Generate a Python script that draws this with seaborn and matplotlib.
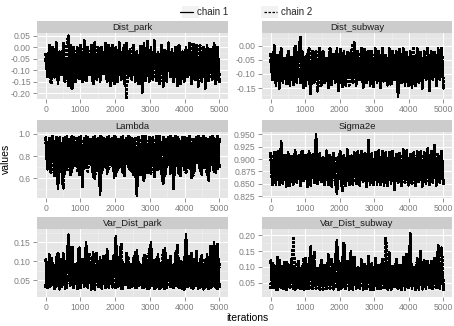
import numpy as np
import pandas as pd
import matplotlib
matplotlib.use("Agg")
import matplotlib.pyplot as plt
from matplotlib.lines import Line2D
from matplotlib.patches import Rectangle
from matplotlib.ticker import FormatStrFormatter, FixedLocator
import seaborn as sns

# ---------------- data ----------------
params = ["Dist_park", "Dist_subway", "Lambda", "Sigma2e", "Var_Dist_park", "Var_Dist_subway"]
chains = ["chain 1", "chain 2"]
x_ticks = [0, 1000, 2000, 3000, 4000, 5000]
n_iter = 5000

dist_park_c1 = [
    -0.03, -0.13, 0.01, -0.15, -0.04, -0.11, 0.00, -0.16, -0.02, -0.12,
    0.02, -0.14, -0.05, -0.17, 0.01, -0.12, -0.03, -0.15, 0.00, -0.10,
    -0.01, -0.15, 0.03, -0.13, -0.04, -0.12, 0.01, -0.16, -0.02, -0.14,
    0.00, -0.15, -0.05, -0.11, 0.02, -0.13, -0.02, -0.17, 0.01, -0.12,
    -0.03, -0.15, 0.00, -0.13, -0.04, -0.16, 0.02, -0.12, -0.01, -0.14,
    0.01, -0.15, -0.03, -0.13, 0.00, -0.20, 0.02, -0.12, -0.04, -0.15,
    0.00, -0.14, 0.03, -0.13, -0.02, -0.16, 0.01, -0.11, -0.03, -0.15,
    0.02, -0.13, -0.01, -0.14, 0.00, -0.17, 0.01, -0.12, -0.02, -0.15,
    0.00, -0.13, 0.02, -0.16, -0.01, -0.14, 0.01, -0.12, -0.03, -0.15,
    0.00, -0.18, 0.01, -0.13, -0.02, -0.14, 0.02, -0.12, 0.00, -0.15]
dist_park_c2 = [
    -0.05, -0.12, -0.01, -0.16, 0.00, -0.13, 0.02, -0.14, -0.02, -0.11,
    -0.04, -0.15, 0.01, 0.05, -0.13, -0.18, 0.00, -0.12, -0.02, -0.14,
    0.01, -0.13, -0.04, -0.15, 0.00, -0.12, -0.02, -0.16, 0.02, -0.13,
    -0.03, -0.14, 0.00, -0.12, -0.01, -0.15, 0.01, -0.13, -0.04, -0.16,
    0.00, -0.12, 0.02, -0.14, -0.02, 0.01, -0.22, -0.03, -0.13, -0.01,
    0.00, -0.13, -0.02, -0.16, 0.01, -0.12, -0.01, -0.15, 0.03, -0.14,
    -0.02, -0.12, 0.00, -0.15, -0.03, -0.13, 0.01, -0.17, -0.01, -0.14,
    0.02, -0.12, -0.03, -0.15, 0.00, -0.13, 0.01, -0.16, -0.02, -0.14,
    -0.01, -0.12, 0.00, -0.15, 0.02, -0.13, -0.03, -0.17, 0.01, -0.14,
    -0.02, -0.12, 0.00, -0.15, -0.01, -0.13, 0.01, -0.16, -0.02, -0.13]

dist_subway_c1 = [
    -0.03, -0.12, 0.00, -0.14, -0.04, -0.11, -0.02, -0.13, -0.05, -0.12,
    -0.02, -0.14, -0.04, -0.11, -0.01, -0.13, -0.03, 0.03, -0.12, -0.05,
    -0.14, -0.03, -0.11, -0.17, -0.02, -0.13, -0.04, -0.12, -0.01, -0.14,
    -0.03, -0.11, -0.05, -0.15, -0.02, -0.12, -0.04, -0.13, -0.01, -0.16,
    -0.03, -0.12, -0.02, -0.14, -0.05, -0.11, -0.02, -0.13, 0.01, -0.14,
    -0.04, -0.12, -0.01, -0.15, -0.03, -0.11, -0.02, -0.14, -0.04, -0.12,
    -0.01, -0.13, -0.03, -0.15, -0.02, -0.12, -0.04, -0.14, -0.01, -0.13,
    -0.03, -0.12, -0.02, -0.18, -0.04, -0.11, -0.01, -0.14, -0.03, -0.12,
    -0.02, -0.15, -0.04, -0.11, -0.01, -0.13, -0.03, -0.14, -0.02, -0.12,
    -0.04, -0.16, -0.02, -0.12, -0.03, -0.14, -0.01, -0.11, -0.02, -0.15]
dist_subway_c2 = [
    -0.05, -0.11, -0.02, -0.13, -0.03, -0.15, -0.01, -0.12, -0.04, -0.14,
    -0.02, -0.12, -0.05, -0.14, 0.00, -0.11, -0.03, -0.13, -0.02, -0.15,
    -0.04, -0.12, -0.01, -0.14, -0.03, -0.11, -0.02, -0.16, -0.04, -0.12,
    -0.02, -0.13, -0.04, -0.12, -0.01, -0.14, -0.03, -0.11, -0.05, -0.13,
    -0.01, -0.15, -0.03, -0.12, -0.02, -0.14, -0.04, 0.00, -0.11, -0.13,
    -0.02, -0.12, -0.04, -0.14, -0.01, -0.13, -0.03, -0.11, -0.02, -0.15,
    -0.04, -0.12, -0.02, -0.14, -0.01, -0.13, -0.03, -0.12, -0.05, -0.14,
    -0.02, -0.11, -0.03, -0.15, -0.01, -0.13, -0.04, -0.12, -0.02, -0.14,
    -0.03, -0.12, -0.01, -0.14, -0.04, -0.13, -0.02, -0.15, -0.03, -0.11,
    -0.01, -0.13, -0.03, -0.12, -0.02, -0.14, -0.04, -0.12, -0.01, -0.14]

lambda_c1 = [
    0.97, 0.68, 0.96, 0.72, 0.98, 0.62, 0.95, 0.50, 0.97, 0.70,
    0.96, 0.64, 0.98, 0.74, 0.95, 0.66, 0.97, 0.71, 0.96, 0.63,
    0.98, 0.52, 0.96, 0.69, 0.97, 0.75, 0.95, 0.61, 0.98, 0.67,
    0.96, 0.45, 0.97, 0.70, 0.95, 0.64, 0.98, 0.72, 0.96, 0.60,
    0.97, 0.68, 0.95, 0.73, 0.98, 0.62, 0.96, 0.70, 0.97, 0.66,
    0.95, 0.71, 0.44, 0.97, 0.63, 0.96, 0.74, 0.98, 0.65, 0.95,
    0.69, 0.97, 0.61, 0.96, 0.72, 0.98, 0.66, 0.55, 0.95, 0.70,
    0.97, 0.64, 0.96, 0.50, 0.98, 0.73, 0.95, 0.62, 0.97, 0.68,
    0.96, 0.71, 0.98, 0.60, 0.95, 0.67, 0.97, 0.74, 0.96, 0.63,
    0.98, 0.69, 0.95, 0.58, 0.97, 0.72, 0.96, 0.65, 0.98, 0.70]
lambda_c2 = [
    0.96, 0.70, 0.97, 0.65, 0.95, 0.73, 0.98, 0.66, 0.96, 0.71,
    0.51, 0.97, 0.68, 0.95, 0.62, 0.98, 0.74, 0.96, 0.67, 0.97,
    0.63, 0.95, 0.70, 0.98, 0.66, 0.96, 0.72, 0.97, 0.60, 0.95,
    0.69, 0.98, 0.64, 0.96, 0.73, 0.97, 0.67, 0.95, 0.71, 0.98,
    0.62, 0.96, 0.70, 0.97, 0.65, 0.95, 0.74, 0.98, 0.68, 0.96,
    0.63, 0.97, 0.71, 0.95, 0.66, 0.98, 0.58, 0.96, 0.69, 0.97,
    0.64, 0.95, 0.72, 0.98, 0.67, 0.96, 0.70, 0.97, 0.62, 0.95,
    0.73, 0.98, 0.66, 0.96, 0.70, 0.97, 0.64, 0.95, 0.71, 0.98,
    0.65, 0.96, 0.69, 0.97, 0.62, 0.95, 0.73, 0.98, 0.67, 0.96,
    0.70, 0.97, 0.63, 0.95, 0.72, 0.98, 0.66, 0.96, 0.69, 0.97]

sigma2e_c1 = [
    0.912, 0.852, 0.905, 0.848, 0.915, 0.858, 0.935, 0.850, 0.908, 0.845,
    0.914, 0.855, 0.902, 0.849, 0.918, 0.853, 0.907, 0.846, 0.913, 0.857,
    0.904, 0.851, 0.916, 0.847, 0.909, 0.856, 0.950, 0.850, 0.911, 0.854,
    0.903, 0.848, 0.917, 0.852, 0.906, 0.845, 0.912, 0.858, 0.830, 0.905,
    0.915, 0.850, 0.908, 0.846, 0.919, 0.855, 0.904, 0.849, 0.913, 0.852,
    0.907, 0.847, 0.916, 0.854, 0.909, 0.851, 0.938, 0.848, 0.912, 0.856,
    0.905, 0.849, 0.918, 0.853, 0.908, 0.846, 0.914, 0.857, 0.903, 0.850,
    0.916, 0.838, 0.909, 0.852, 0.912, 0.848, 0.906, 0.855, 0.917, 0.847,
    0.904, 0.853, 0.913, 0.849, 0.908, 0.856, 0.915, 0.845, 0.910, 0.851,
    0.921, 0.848, 0.907, 0.854, 0.914, 0.847, 0.909, 0.852, 0.916, 0.850]
sigma2e_c2 = [
    0.908, 0.849, 0.914, 0.855, 0.903, 0.847, 0.917, 0.852, 0.906, 0.858,
    0.912, 0.846, 0.909, 0.851, 0.915, 0.857, 0.904, 0.848, 0.918, 0.853,
    0.907, 0.845, 0.913, 0.856, 0.902, 0.850, 0.916, 0.847, 0.910, 0.854,
    0.905, 0.852, 0.919, 0.846, 0.908, 0.855, 0.912, 0.849, 0.904, 0.857,
    0.914, 0.836, 0.906, 0.853, 0.917, 0.848, 0.909, 0.855, 0.903, 0.850,
    0.915, 0.847, 0.908, 0.854, 0.911, 0.845, 0.918, 0.852, 0.905, 0.849,
    0.913, 0.856, 0.904, 0.848, 0.916, 0.851, 0.909, 0.846, 0.914, 0.855,
    0.906, 0.849, 0.912, 0.853, 0.903, 0.847, 0.919, 0.852, 0.908, 0.856,
    0.911, 0.850, 0.905, 0.846, 0.915, 0.854, 0.907, 0.849, 0.913, 0.852,
    0.909, 0.847, 0.916, 0.853, 0.930, 0.850, 0.904, 0.855, 0.912, 0.848]

var_dist_park_c1 = [
    0.105, 0.030, 0.118, 0.035, 0.095, 0.028, 0.112, 0.040, 0.088, 0.032,
    0.120, 0.027, 0.098, 0.170, 0.036, 0.108, 0.030, 0.092, 0.038, 0.115,
    0.029, 0.102, 0.034, 0.150, 0.031, 0.097, 0.026, 0.125, 0.037, 0.090,
    0.033, 0.110, 0.028, 0.094, 0.039, 0.132, 0.030, 0.100, 0.035, 0.086,
    0.165, 0.032, 0.112, 0.027, 0.098, 0.038, 0.121, 0.031, 0.093, 0.034,
    0.107, 0.029, 0.128, 0.036, 0.091, 0.030, 0.115, 0.033, 0.099, 0.028,
    0.150, 0.035, 0.104, 0.031, 0.118, 0.027, 0.096, 0.038, 0.135, 0.030,
    0.101, 0.034, 0.089, 0.029, 0.122, 0.036, 0.108, 0.031, 0.094, 0.026,
    0.172, 0.033, 0.113, 0.030, 0.097, 0.037, 0.126, 0.028, 0.105, 0.035,
    0.092, 0.031, 0.118, 0.027, 0.140, 0.034, 0.150, 0.030, 0.145, 0.033]
var_dist_park_c2 = [
    0.032, 0.098, 0.029, 0.112, 0.036, 0.090, 0.031, 0.120, 0.027, 0.104,
    0.035, 0.093, 0.030, 0.116, 0.038, 0.140, 0.033, 0.096, 0.028, 0.135,
    0.031, 0.108, 0.037, 0.092, 0.029, 0.118, 0.034, 0.099, 0.026, 0.125,
    0.036, 0.094, 0.031, 0.113, 0.028, 0.101, 0.035, 0.089, 0.032, 0.119,
    0.030, 0.106, 0.037, 0.145, 0.029, 0.097, 0.034, 0.110, 0.027, 0.092,
    0.033, 0.123, 0.030, 0.100, 0.036, 0.088, 0.031, 0.114, 0.028, 0.131,
    0.035, 0.095, 0.029, 0.107, 0.037, 0.091, 0.032, 0.128, 0.026, 0.103,
    0.034, 0.117, 0.030, 0.093, 0.036, 0.142, 0.031, 0.099, 0.028, 0.111,
    0.033, 0.090, 0.035, 0.121, 0.029, 0.106, 0.037, 0.097, 0.031, 0.115,
    0.027, 0.102, 0.034, 0.095, 0.030, 0.138, 0.036, 0.108, 0.029, 0.096]

var_dist_subway_c1 = [
    0.120, 0.032, 0.105, 0.028, 0.130, 0.036, 0.098, 0.030, 0.115, 0.026,
    0.108, 0.034, 0.125, 0.029, 0.095, 0.037, 0.118, 0.031, 0.102, 0.027,
    0.128, 0.033, 0.099, 0.165, 0.030, 0.112, 0.036, 0.094, 0.028, 0.121,
    0.035, 0.106, 0.029, 0.140, 0.032, 0.097, 0.038, 0.116, 0.185, 0.027,
    0.110, 0.034, 0.126, 0.030, 0.101, 0.036, 0.150, 0.028, 0.119, 0.033,
    0.095, 0.031, 0.123, 0.037, 0.104, 0.029, 0.135, 0.033, 0.112, 0.026,
    0.127, 0.035, 0.098, 0.030, 0.117, 0.034, 0.108, 0.028, 0.145, 0.032,
    0.103, 0.036, 0.120, 0.029, 0.096, 0.033, 0.131, 0.027, 0.111, 0.035,
    0.205, 0.031, 0.100, 0.036, 0.124, 0.028, 0.150, 0.033, 0.107, 0.030,
    0.118, 0.034, 0.099, 0.029, 0.128, 0.037, 0.170, 0.031, 0.113, 0.027]
var_dist_subway_c2 = [
    0.030, 0.112, 0.035, 0.098, 0.027, 0.125, 0.033, 0.104, 0.029, 0.118,
    0.036, 0.101, 0.031, 0.190, 0.028, 0.114, 0.034, 0.096, 0.030, 0.128,
    0.032, 0.107, 0.027, 0.119, 0.035, 0.150, 0.030, 0.099, 0.033, 0.122,
    0.028, 0.110, 0.036, 0.095, 0.031, 0.127, 0.029, 0.103, 0.034, 0.116,
    0.030, 0.098, 0.175, 0.033, 0.121, 0.028, 0.106, 0.035, 0.131, 0.031,
    0.097, 0.036, 0.115, 0.029, 0.108, 0.034, 0.124, 0.027, 0.100, 0.032,
    0.119, 0.030, 0.105, 0.035, 0.128, 0.028, 0.195, 0.033, 0.110, 0.029,
    0.097, 0.036, 0.123, 0.031, 0.104, 0.027, 0.116, 0.034, 0.140, 0.030,
    0.108, 0.035, 0.099, 0.028, 0.126, 0.033, 0.112, 0.029, 0.120, 0.036,
    0.101, 0.031, 0.118, 0.027, 0.130, 0.034, 0.105, 0.030, 0.160, 0.032]

y_ticks = {
    "Dist_park": [-0.20, -0.15, -0.10, -0.05, 0.00, 0.05],
    "Dist_subway": [-0.15, -0.10, -0.05, 0.00],
    "Lambda": [0.6, 0.8, 1.0],
    "Sigma2e": [0.825, 0.850, 0.875, 0.900, 0.925, 0.950],
    "Var_Dist_park": [0.05, 0.10, 0.15],
    "Var_Dist_subway": [0.05, 0.10, 0.15, 0.20],
}
y_fmt = {"Dist_park": "%.2f", "Dist_subway": "%.2f", "Lambda": "%.1f",
         "Sigma2e": "%.3f", "Var_Dist_park": "%.2f", "Var_Dist_subway": "%.2f"}
y_lims = {
    "Dist_park": (-0.226, 0.063),
    "Dist_subway": (-0.188, 0.044),
    "Lambda": (0.42, 1.018),
    "Sigma2e": (0.8215, 0.9545),
    "Var_Dist_park": (0.006, 0.185),
    "Var_Dist_subway": (0.004, 0.220),
}

series = {
    "Dist_park": (dist_park_c1, dist_park_c2),
    "Dist_subway": (dist_subway_c1, dist_subway_c2),
    "Lambda": (lambda_c1, lambda_c2),
    "Sigma2e": (sigma2e_c1, sigma2e_c2),
    "Var_Dist_park": (var_dist_park_c1, var_dist_park_c2),
    "Var_Dist_subway": (var_dist_subway_c1, var_dist_subway_c2),
}

rows = []
for p in params:
    for ch, vals in zip(chains, series[p]):
        it = np.linspace(1, n_iter, len(vals))
        for i, v in zip(it, vals):
            rows.append((p, ch, i, v))
df = pd.DataFrame(rows, columns=["param", "chain", "iterations", "values"])

# ---------------- style ----------------
sns.set_theme(style="darkgrid")
plt.rcParams["font.family"] = ["Liberation Sans", "DejaVu Sans"]
plt.rcParams["axes.unicode_minus"] = False
plt.rcParams["path.simplify"] = False

W, H = 454, 326
fig = plt.figure(figsize=(W / 100, H / 100), dpi=100)
fig.patch.set_facecolor("white")

col_x = [(37, 228), (262, 452)]
row_y = [(21, 33, 99), (120, 132, 198), (217, 229, 297)]  # strip top, panel top, panel bottom

tick_col = "#7F7F7F"
for k, p in enumerate(params):
    r, c = divmod(k, 2)
    x0, x1 = col_x[c]
    st, pt, pb = row_y[r]
    ax = fig.add_axes([x0 / W, 1 - pb / H, (x1 - x0) / W, (pb - pt) / H])
    sax = fig.add_axes([x0 / W, 1 - pt / H, (x1 - x0) / W, (pt - st) / H])
    sax.set_facecolor("#CCCCCC")
    sax.set_xticks([]); sax.set_yticks([])
    for s in sax.spines.values():
        s.set_visible(False)
    sax.text(0.5, 0.45, p, ha="center", va="center", fontsize=6.8,
             color="#1A1A1A", transform=sax.transAxes)

    ax.set_facecolor("#E5E5E5")
    sub = df[df.param == p]
    sns.lineplot(data=sub, x="iterations", y="values", style="chain",
                 style_order=chains, dashes={"chain 1": "", "chain 2": (1.6, 0.8)},
                 color="black", linewidth=1.2, estimator=None, legend=False, ax=ax)
    for ln in ax.get_lines():
        ln.set_antialiased(False)
    ax.set_xlim(-250, 5250)
    ax.set_ylim(*y_lims[p])
    ax.xaxis.set_major_locator(FixedLocator(x_ticks))
    ax.yaxis.set_major_locator(FixedLocator(y_ticks[p]))
    ax.yaxis.set_major_formatter(FormatStrFormatter(y_fmt[p]))
    yt = y_ticks[p]
    step = yt[1] - yt[0]
    minors = [yt[0] - step / 2] + [t + step / 2 for t in yt]
    ax.yaxis.set_minor_locator(FixedLocator(minors))
    ax.xaxis.set_minor_locator(FixedLocator([-500, 500, 1500, 2500, 3500, 4500]))
    ax.grid(which="major", color="white", linewidth=0.8)
    ax.grid(which="minor", color="#F2F2F2", linewidth=0.4)
    ax.set_axisbelow(True)
    for s in ax.spines.values():
        s.set_visible(False)
    ax.tick_params(axis="both", which="major", length=3, width=0.6, color=tick_col,
                   labelcolor=tick_col, labelsize=6.2, pad=1.5, direction="out",
                   bottom=True, left=True)
    ax.tick_params(axis="both", which="minor", length=0)
    ax.set_xlabel("")
    ax.set_ylabel("")

fig.text(6 / W, 1 - 159 / H, "values", rotation=90, ha="center", va="center",
         fontsize=7.5, color="black")
fig.text(247 / W, 1 - 318 / H, "iterations", ha="center", va="center",
         fontsize=7.5, color="black")

# legend key backgrounds (ggplot style)
for kx in (182, 261):
    fig.patches.append(Rectangle((kx / W, 1 - 18 / H), 17 / W, 12 / H,
                                 transform=fig.transFigure, facecolor="#F2F2F2",
                                 edgecolor="none", zorder=0))
handles = [Line2D([], [], color="black", lw=0.9, linestyle="-"),
           Line2D([], [], color="black", lw=0.9, linestyle=(0, (2, 1.2)))]
fig.legend(handles, chains, loc="center", bbox_to_anchor=(246 / W, 1 - 12 / H),
           ncol=2, frameon=False, fontsize=7, handlelength=1.4, handletextpad=0.4,
           columnspacing=3.6, borderpad=0)

fig.savefig("out.png", dpi=100, facecolor="white")
